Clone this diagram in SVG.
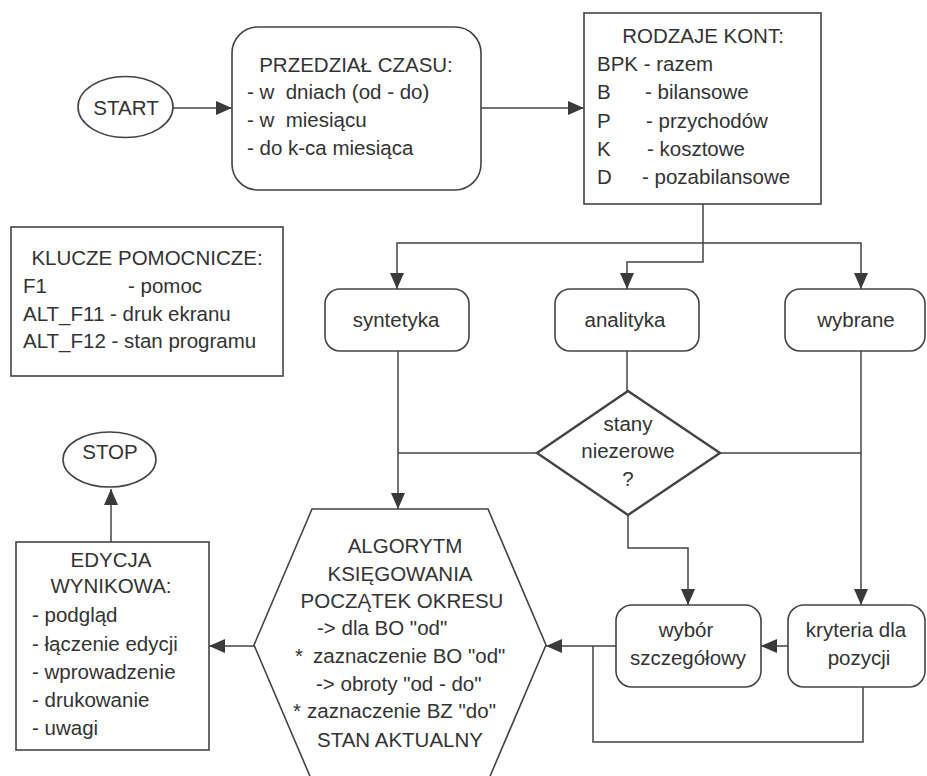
<svg xmlns="http://www.w3.org/2000/svg" width="927" height="776" viewBox="0 0 927 776">
  <style>
    text { font-family: "Liberation Sans", Arial, sans-serif; font-size: 20.5px; fill: #333; white-space: pre; }
    .c { text-anchor: middle; }
    .shape { fill: none; stroke: #444; stroke-width: 1.6; }
    .thick { stroke-width: 2.4; }
    .wire { fill: none; stroke: #444; stroke-width: 1.5; }
    .arrow { marker-end: url(#head); }
  </style>
  <defs>
    <marker id="head" markerUnits="userSpaceOnUse" markerWidth="16" markerHeight="14" viewBox="0 0 16 14" refX="16" refY="7" orient="auto">
      <path d="M0,0 L16,7 L0,14 Z" fill="#3a3a3a"/>
    </marker>
  </defs>
  <rect width="927" height="776" fill="#fff"/>

  <!-- connectors -->
  <g id="connectors">
    <path class="wire arrow" d="M173,108 H232"/>
    <path class="wire arrow" d="M481,108 H584"/>
    <path class="wire arrow" d="M703,204 V262 H627 V289"/>
    <path class="wire arrow" d="M703,243 H397 V289"/>
    <path class="wire arrow" d="M703,243 H861 V289"/>
    <path class="wire arrow" d="M398,351 V509"/>
    <path class="wire" d="M627,351 V391"/>
    <path class="wire" d="M537,453 H398"/>
    <path class="wire" d="M720,453 H861"/>
    <path class="wire arrow" d="M861,351 V605"/>
    <path class="wire arrow" d="M628,515 V548 H688 V605"/>
    <path class="wire arrow" d="M788,646 H761"/>
    <path class="wire arrow" d="M616,646 H546"/>
    <path class="wire" d="M863,687 V742 H593 V646"/>
    <path class="wire arrow" d="M254,646 H209"/>
    <path class="wire arrow" d="M111,542 V489"/>
  </g>

  <g id="start">
    <ellipse class="shape" cx="125.5" cy="107" rx="47.5" ry="30.5"/>
    <text class="c" x="126" y="115">START</text>
  </g>

  <g id="przedzial">
    <rect class="shape" x="232" y="27" width="249" height="163" rx="26"/>
    <text class="c" x="356" y="72">PRZEDZIAŁ CZASU:</text>
    <text x="247" y="99">- w  dniach (od - do)</text>
    <text x="247" y="127">- w  miesiącu</text>
    <text x="247" y="155">- do k-ca miesiąca</text>
  </g>

  <g id="rodzaje">
    <rect class="shape" x="584" y="13" width="237" height="191"/>
    <text class="c" x="703" y="43">RODZAJE KONT:</text>
    <text x="597" y="71">BPK - razem</text>
    <text x="597" y="99">B<tspan x="645">- bilansowe</tspan></text>
    <text x="597" y="128">P<tspan x="646">- przychodów</tspan></text>
    <text x="597" y="156">K<tspan x="647">- kosztowe</tspan></text>
    <text x="597" y="184">D<tspan x="642">- pozabilansowe</tspan></text>
  </g>

  <g id="klucze">
    <rect class="shape" x="11" y="227" width="272" height="149"/>
    <text class="c" x="147" y="265">KLUCZE POMOCNICZE:</text>
    <text x="23" y="293">F1<tspan x="128">- pomoc</tspan></text>
    <text x="23" y="321">ALT_F11 - druk ekranu</text>
    <text x="23" y="348">ALT_F12 - stan programu</text>
  </g>

  <g id="syntetyka">
    <rect class="shape" x="325" y="289" width="144" height="62" rx="15"/>
    <text class="c" x="396" y="327">syntetyka</text>
  </g>

  <g id="analityka">
    <rect class="shape" x="555" y="289" width="144" height="62" rx="15"/>
    <text class="c" x="625" y="327">analityka</text>
  </g>

  <g id="wybrane">
    <rect class="shape" x="785" y="289" width="140" height="62" rx="15"/>
    <text class="c" x="856" y="327">wybrane</text>
  </g>

  <g id="stany">
    <polygon class="shape thick" points="628,391 720,453 628,515 537,453"/>
    <text class="c" x="628" y="431">stany</text>
    <text class="c" x="628" y="458">niezerowe</text>
    <text class="c" x="628" y="486">?</text>
  </g>

  <g id="wybor">
    <rect class="shape" x="616" y="605" width="145" height="82" rx="16"/>
    <text class="c" x="686" y="637">wybór</text>
    <text class="c" x="688" y="665">szczegółowy</text>
  </g>

  <g id="kryteria">
    <rect class="shape" x="788" y="605" width="137" height="82" rx="16"/>
    <text class="c" x="856" y="637">kryteria dla</text>
    <text class="c" x="859" y="665">pozycji</text>
  </g>

  <g id="algorytm">
    <polygon class="shape" points="312,509 488,509 546,645 488,781 312,781 254,645"/>
    <text class="c" x="405" y="553">ALGORYTM</text>
    <text class="c" x="400" y="581">KSIĘGOWANIA</text>
    <text class="c" x="402" y="608">POCZĄTEK OKRESU</text>
    <text x="317" y="635">-&gt; dla BO "od"</text>
    <text x="295" y="663">*<tspan x="313">zaznaczenie BO "od"</tspan></text>
    <text x="316" y="691">-&gt; obroty "od - do"</text>
    <text x="293" y="718">*<tspan x="307">zaznaczenie BZ "do"</tspan></text>
    <text class="c" x="400" y="747">STAN AKTUALNY</text>
  </g>

  <g id="edycja">
    <rect class="shape" x="16" y="542" width="193" height="208"/>
    <text class="c" x="111" y="567">EDYCJA</text>
    <text class="c" x="111" y="593">WYNIKOWA:</text>
    <text x="32" y="622">- podgląd</text>
    <text x="32" y="651">- łączenie edycji</text>
    <text x="32" y="679">- wprowadzenie</text>
    <text x="32" y="707">- drukowanie</text>
    <text x="32" y="735">- uwagi</text>
  </g>

  <g id="stop">
    <ellipse class="shape" cx="109.5" cy="459.5" rx="46.5" ry="27.5"/>
    <text class="c" x="110" y="459">STOP</text>
  </g>
</svg>
